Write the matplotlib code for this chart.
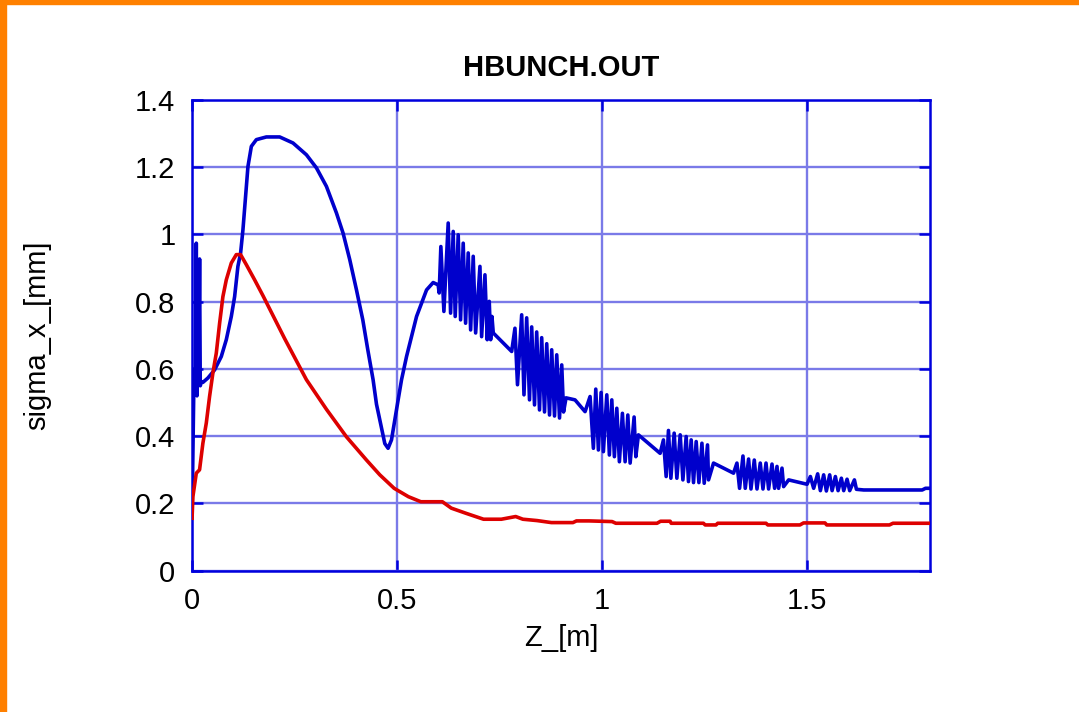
import matplotlib
matplotlib.use("Agg")
import matplotlib.pyplot as plt
from matplotlib.patches import Rectangle
from matplotlib.ticker import FuncFormatter

plt.rcParams['font.family'] = ['Liberation Sans', 'DejaVu Sans']

# beam size along the line, from HBUNCH.OUT
blue_z = [0.0, 0.002, 0.004, 0.006, 0.008, 0.0103, 0.012, 0.014, 0.016, 0.0183,
          0.020, 0.0225, 0.0264, 0.0386, 0.0549, 0.0713, 0.0835, 0.0957, 0.1038,
          0.1118, 0.1184, 0.1241, 0.1363, 0.1446, 0.1568, 0.1812, 0.2137, 0.2462,
          0.2789, 0.3033, 0.3277, 0.3521, 0.3683, 0.3846, 0.401, 0.4164, 0.4286,
          0.4415, 0.4498, 0.462, 0.4701, 0.4781, 0.4864, 0.4945, 0.5026, 0.5109,
          0.5231, 0.5475, 0.5719, 0.588, 0.6002,
          # first quadrupole wiggles
          0.6027, 0.6068, 0.6142, 0.6247, 0.6305, 0.6369, 0.6418, 0.6491, 0.6549,
          0.6613, 0.6671, 0.6735, 0.6794, 0.6857, 0.6916, 0.7021, 0.7062, 0.7143,
          0.7199, 0.7248, 0.7282, 0.7314, 0.7346, 0.7795,
          # second
          0.7875, 0.7937, 0.8039, 0.8095, 0.8161, 0.823, 0.8283, 0.8352, 0.8405,
          0.8474, 0.8527, 0.8596, 0.865, 0.8718, 0.8771, 0.884, 0.8894, 0.8962,
          0.9016, 0.906, 0.9121, 0.934, 0.9585,
          # third
          0.9707, 0.9788, 0.9846, 0.991, 0.9976, 1.0032, 1.0115, 1.0178, 1.0237,
          1.03, 1.0359, 1.0422, 1.0496, 1.0562, 1.0628, 1.0684, 1.0781, 1.0823,
          1.0886, 1.1416,
          # fourth
          1.1497, 1.1563, 1.1619, 1.1678, 1.1758, 1.1824, 1.1905, 1.1971, 1.2051,
          1.2107, 1.2173, 1.223, 1.2295, 1.2361, 1.2435, 1.2491, 1.2571, 1.2596,
          1.2718, 1.3206,
          # fifth
          1.3289, 1.3353, 1.3436, 1.3492, 1.3573, 1.3631, 1.3712, 1.3778, 1.3858,
          1.3924, 1.3998, 1.4061, 1.4144, 1.4208, 1.4266, 1.4305, 1.4388, 1.4427,
          1.455, 1.4999,
          # sixth
          1.508, 1.516, 1.5258, 1.5324, 1.5404, 1.547, 1.5551, 1.561, 1.569,
          1.5756, 1.5836, 1.5893, 1.5975, 1.6039, 1.6154, 1.6203, 1.6381,
          1.7807, 1.7888, 1.801]
blue_sigma = [0.17, 0.35, 0.52, 0.60, 0.55, 0.974, 0.52, 0.62, 0.56, 0.927,
              0.55, 0.5625, 0.56, 0.573, 0.597, 0.637, 0.687, 0.756, 0.815,
              0.905, 0.945, 1.014, 1.202, 1.262, 1.282, 1.29, 1.29, 1.272,
              1.237, 1.198, 1.143, 1.064, 1.004, 0.925, 0.835, 0.746, 0.657,
              0.568, 0.495, 0.425, 0.378, 0.364, 0.389, 0.449, 0.508, 0.568,
              0.637, 0.756, 0.835, 0.857, 0.85,
              0.826, 0.964, 0.771, 1.034, 0.766, 1.009, 0.756, 0.999, 0.746,
              0.974, 0.736, 0.945, 0.716, 0.935, 0.707, 0.905, 0.696, 0.88,
              0.687, 0.801, 0.687, 0.756, 0.707, 0.652,
              0.721, 0.553, 0.761, 0.523, 0.752, 0.508, 0.725, 0.493, 0.71,
              0.478, 0.693, 0.472, 0.675, 0.463, 0.657, 0.46, 0.642, 0.454,
              0.612, 0.472, 0.514, 0.508, 0.473,
              0.518, 0.364, 0.54, 0.359, 0.53, 0.354, 0.523, 0.344, 0.508,
              0.339, 0.483, 0.324, 0.468, 0.324, 0.463, 0.32, 0.457, 0.339,
              0.404, 0.349,
              0.389, 0.28, 0.417, 0.275, 0.409, 0.275, 0.404, 0.27, 0.399,
              0.265, 0.389, 0.262, 0.384, 0.262, 0.379, 0.26, 0.374, 0.27,
              0.32, 0.29,
              0.32, 0.245, 0.341, 0.245, 0.332, 0.243, 0.329, 0.243, 0.32,
              0.243, 0.32, 0.243, 0.317, 0.245, 0.31, 0.245, 0.305, 0.25,
              0.27, 0.257,
              0.28, 0.245, 0.288, 0.238, 0.285, 0.237, 0.285, 0.238, 0.28,
              0.238, 0.275, 0.238, 0.272, 0.238, 0.27, 0.242, 0.24,
              0.24, 0.245, 0.245]

red_z = [0.0, 0.002, 0.0103, 0.0183, 0.0264, 0.0347, 0.0427, 0.0508, 0.0591,
         0.0672, 0.0752, 0.0835, 0.0957, 0.1079, 0.1184, 0.1324, 0.1526, 0.1729,
         0.2259, 0.2789, 0.3277, 0.3766, 0.4254, 0.4579, 0.4928, 0.5277, 0.558,
         0.6105, 0.6322, 0.6672, 0.7109, 0.7543, 0.7893, 0.8068, 0.8413, 0.8764,
         0.9289, 0.9375, 0.9683, 1.0244, 1.0335, 1.134, 1.1426, 1.166, 1.1685,
         1.2471, 1.2515, 1.2777, 1.2821, 1.3998, 1.4042, 1.4826, 1.4913, 1.5436,
         1.548, 1.7009, 1.7094, 1.801]
red_sigma = [0.156, 0.22, 0.29, 0.30, 0.379, 0.439, 0.518, 0.588, 0.647,
             0.736, 0.815, 0.865, 0.915, 0.94, 0.94, 0.91, 0.865, 0.818,
             0.69, 0.568, 0.48, 0.398, 0.329, 0.285, 0.245, 0.22, 0.205,
             0.205, 0.186, 0.171, 0.153, 0.153, 0.161, 0.153, 0.149, 0.143,
             0.143, 0.148, 0.148, 0.146, 0.141, 0.141, 0.147, 0.147, 0.141,
             0.141, 0.136, 0.136, 0.141, 0.141, 0.136, 0.136, 0.142, 0.142,
             0.136, 0.136, 0.141, 0.141]

x_ticks = [0, 0.5, 1, 1.5]
y_ticks = [0, 0.2, 0.4, 0.6, 0.8, 1.0, 1.2, 1.4]

axis_blue = '#0000dd'
grid_blue = '#7a7ae8'

fig = plt.figure(figsize=(10.79, 7.12), dpi=100)
ax = fig.add_axes([0.178, 0.1985, 0.684, 0.6611])

ax.plot(blue_z, blue_sigma, color='#0000cc', lw=2.6, zorder=3)
ax.plot(red_z, red_sigma, color='#dd0000', lw=2.6, zorder=3)

ax.set_xlim(0, 1.8)
ax.set_ylim(0, 1.4)
ax.set_xticks(x_ticks)
ax.set_yticks(y_ticks)
fmt = FuncFormatter(lambda v, p: '%g' % round(v, 3))
ax.xaxis.set_major_formatter(fmt)
ax.yaxis.set_major_formatter(fmt)

ax.grid(True, color=grid_blue, lw=1.7, linestyle='-', zorder=1)
ax.set_axisbelow(True)

for s in ax.spines.values():
    s.set_color(axis_blue)
    s.set_linewidth(1.8)
ax.tick_params(direction='in', length=8, width=1.8, color=axis_blue,
               top=True, right=True, labelsize=21, pad=12, labelcolor='black')

ax.set_title('HBUNCH.OUT', fontsize=21, fontweight='bold', pad=17)
ax.set_xlabel('Z_[m]', fontsize=21, labelpad=6)
ax.set_ylabel('sigma_x_[mm]', fontsize=21, labelpad=60)

# orange frame strips along the top and left edge
fig.patches.append(Rectangle((0, 0), 6 / 1079, 1, transform=fig.transFigure,
                             color='#ff8000', zorder=0))
fig.patches.append(Rectangle((0, 1 - 4 / 712), 1, 4 / 712, transform=fig.transFigure,
                             color='#ff8000', zorder=0))

fig.savefig('out.png', dpi=100)
